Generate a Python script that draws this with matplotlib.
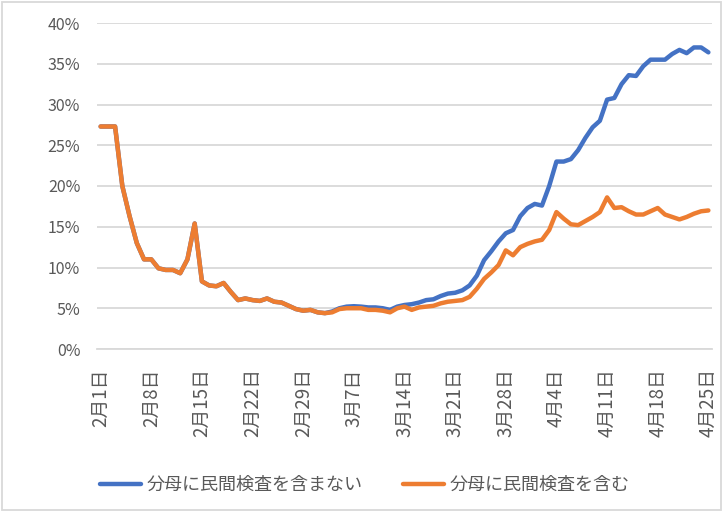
import matplotlib
matplotlib.use("Agg")
import matplotlib.pyplot as plt
from matplotlib.patches import Rectangle
from matplotlib.ticker import PercentFormatter

plt.rcParams['font.family'] = ['Noto Sans CJK JP', 'DejaVu Sans']

# daily values, 2020-02-01 .. 2020-04-25 (percent)
excl_private = [
    27.3, 27.3, 27.3, 20.0, 16.3, 13.0, 11.0, 11.0, 9.9, 9.7,
    9.7, 9.3, 11.0, 15.4, 8.3, 7.8, 7.7, 8.1, 7.0, 6.0,
    6.2, 6.0, 5.9, 6.2, 5.8, 5.7, 5.3, 4.9, 4.7, 4.8,
    4.5, 4.4, 4.6, 5.0, 5.2, 5.25, 5.2, 5.1, 5.1, 5.0,
    4.8, 5.2, 5.4, 5.5, 5.7, 6.0, 6.1, 6.5, 6.8, 6.9,
    7.2, 7.8, 9.0, 10.9, 12.0, 13.2, 14.2, 14.6, 16.3, 17.3,
    17.8, 17.6, 20.0, 23.0, 23.0, 23.3, 24.4, 25.9, 27.2, 28.0,
    30.6, 30.8, 32.5, 33.6, 33.5, 34.7, 35.5, 35.5, 35.5, 36.2,
    36.7, 36.3, 37.0, 37.0, 36.4,
]
incl_private = [
    27.3, 27.3, 27.3, 20.0, 16.3, 13.0, 11.0, 11.0, 9.9, 9.7,
    9.7, 9.3, 11.0, 15.4, 8.3, 7.8, 7.7, 8.1, 7.0, 6.0,
    6.2, 6.0, 5.9, 6.2, 5.8, 5.7, 5.3, 4.9, 4.7, 4.8,
    4.5, 4.4, 4.5, 4.9, 5.0, 5.0, 5.0, 4.8, 4.8, 4.7,
    4.5, 5.0, 5.2, 4.8, 5.1, 5.2, 5.3, 5.6, 5.8, 5.9,
    6.0, 6.4, 7.4, 8.6, 9.4, 10.3, 12.1, 11.5, 12.5, 12.9,
    13.2, 13.4, 14.6, 16.8, 16.0, 15.3, 15.2, 15.7, 16.2, 16.8,
    18.6, 17.3, 17.4, 16.9, 16.5, 16.5, 16.9, 17.3, 16.5, 16.2,
    15.9, 16.2, 16.6, 16.9, 17.0,
]
tick_labels = ['2月1日', '2月8日', '2月15日', '2月22日', '2月29日', '3月7日', '3月14日',
               '3月21日', '3月28日', '4月4日', '4月11日', '4月18日', '4月25日']
series_names = ['分母に民間検査を含まない', '分母に民間検査を含む']

BLUE = '#4472C4'
ORANGE = '#ED7D31'
GRID = '#D9D9D9'
TEXT = '#595959'

fig = plt.figure(figsize=(7.25, 5.13), dpi=100)
ax = fig.add_axes([97 / 725, 1 - 349 / 513, 615 / 725, 326 / 513])

days = range(len(excl_private))
ax.plot(days, excl_private, color=BLUE, lw=3.2, solid_joinstyle='round',
        solid_capstyle='round', label=series_names[0])
ax.plot(days, incl_private, color=ORANGE, lw=3.2, solid_joinstyle='round',
        solid_capstyle='round', label=series_names[1])

ax.set_xlim(-0.5, len(excl_private) - 0.5)
ax.set_ylim(0, 40)
ax.set_yticks(range(0, 41, 5))
ax.yaxis.set_major_formatter(PercentFormatter(decimals=0))
ax.set_xticks(range(0, len(excl_private), 7))
ax.set_xticklabels(tick_labels, rotation=90, va='top', ha='center')

ax.grid(axis='y', color=GRID, lw=1.3)
ax.set_axisbelow(True)
for s in ['top', 'right', 'left']:
    ax.spines[s].set_visible(False)
ax.spines['bottom'].set_color(GRID)
ax.spines['bottom'].set_linewidth(1.3)
ax.tick_params(axis='y', length=0, pad=12, labelsize=11.5, labelcolor=TEXT)
ax.tick_params(axis='x', length=0, pad=14, labelsize=13.5, labelcolor=TEXT)

fig.legend(loc='center', bbox_to_anchor=(0.503, 1 - 485 / 513), ncol=2, frameon=False,
           fontsize=13, handlelength=2.3, handletextpad=0.3, columnspacing=2.2,
           labelcolor=TEXT)

# chart border
fig.patches.append(Rectangle((2 / 725, 3 / 513), 719 / 725, 508 / 513, transform=fig.transFigure,
                             fill=False, edgecolor=GRID, lw=1.3))

fig.savefig('out.png', dpi=100)
